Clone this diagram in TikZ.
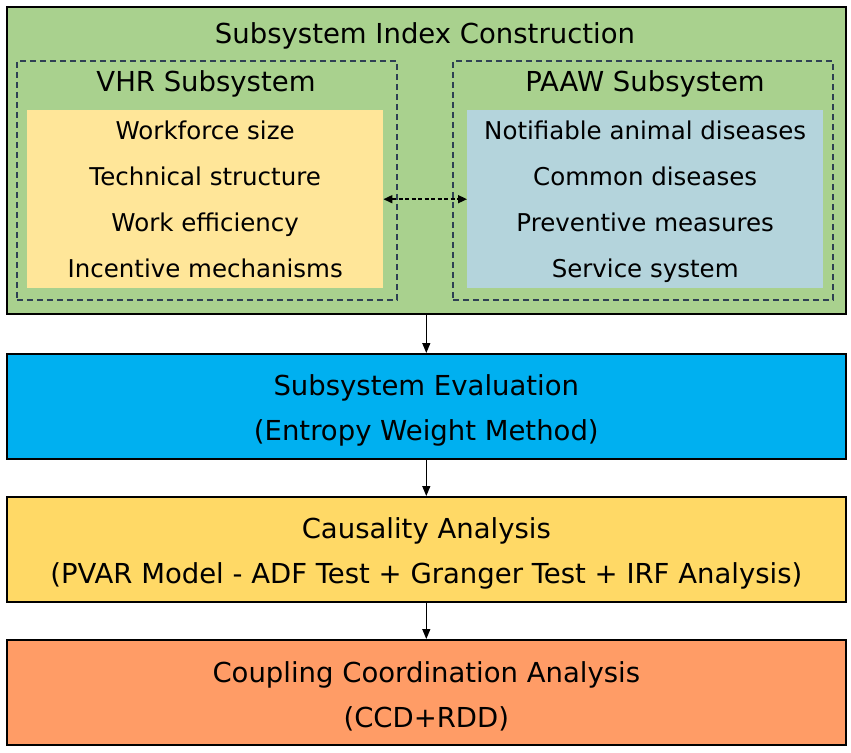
\documentclass[tikz,border=0pt]{standalone}
\usepackage{fontspec}
\setmainfont{DejaVu Sans}
\usetikzlibrary{positioning,arrows.meta}
\definecolor{sicgreen}{HTML}{A9D18E}
\definecolor{evalblue}{HTML}{00B0F0}
\definecolor{causyellow}{HTML}{FFD966}
\definecolor{ccdorange}{HTML}{FF9C66}
\definecolor{vhrfill}{HTML}{FFE699}
\definecolor{paawfill}{HTML}{B4D4DC}
\definecolor{dashline}{HTML}{2E4053}
\begin{document}
\begin{tikzpicture}[x=1pt,y=-1pt,
stage/.style={draw,line width=1.6pt,minimum width=839pt,minimum height=105pt,anchor=north west,inner sep=0pt},
txt/.style={align=center,font=\fontsize{27.5}{45}\selectfont},
sub/.style={draw=dashline,dashed,dash pattern=on 6pt off 4pt,line width=1.6pt,minimum width=380pt,minimum height=239pt,anchor=north west,inner sep=0pt},
inner/.style={minimum width=356pt,minimum height=178pt,anchor=north west,inner sep=0pt},
lst/.style={align=center,font=\fontsize{24.5}{46}\selectfont},
flow/.style={-{Triangle[length=10pt,width=8pt]},line width=1.3pt}]
\useasboundingbox(0,0)rectangle(851,752);
% subsystem index construction
\node[stage,fill=sicgreen,minimum height=307pt](sic)at(6,6){};
\node[txt](sictitle)at(425,36){Subsystem Index Construction};
\node[sub](vhr)at(16,60){};
\node[sub](paaw)at(452,60){};
\node[txt](vhrtitle)at(206,84){VHR Subsystem};
\node[txt](paawtitle)at(645,84){PAAW Subsystem};
\node[inner,fill=vhrfill](vhrlist)at(27,110){};
\node[inner,fill=paawfill](paawlist)at(467,110){};
\node[lst]at(vhrlist.center){\strut Workforce size\\\strut Technical structure\\\strut Work efficiency\\\strut Incentive mechanisms};
\node[lst]at(paawlist.center){\strut Notifiable animal diseases\\\strut Common diseases\\\strut Preventive measures\\\strut Service system};
\draw[{Triangle[length=9pt,width=8pt]}-{Triangle[length=9pt,width=8pt]},dashed,dash pattern=on 4pt off 2.5pt,line width=1.6pt](vhrlist.east)--(paawlist.west);
% evaluation stages
\node[stage,fill=evalblue](eval)at(6,353){};
\node[txt,yshift=-4pt]at(eval.center){Subsystem Evaluation\\(Entropy Weight Method)};
\node[stage,fill=causyellow](caus)at(6,496){};
\node[txt,yshift=-4pt]at(caus.center){Causality Analysis\\(PVAR Model - ADF Test + Granger Test + IRF Analysis)};
\node[stage,fill=ccdorange](ccd)at(6,639){};
\node[txt,yshift=-4pt]at(ccd.center){Coupling Coordination Analysis\\(CCD+RDD)};
\draw[flow](sic)--(eval);
\draw[flow](eval)--(caus);
\draw[flow](caus)--(ccd);
\end{tikzpicture}
\end{document}
